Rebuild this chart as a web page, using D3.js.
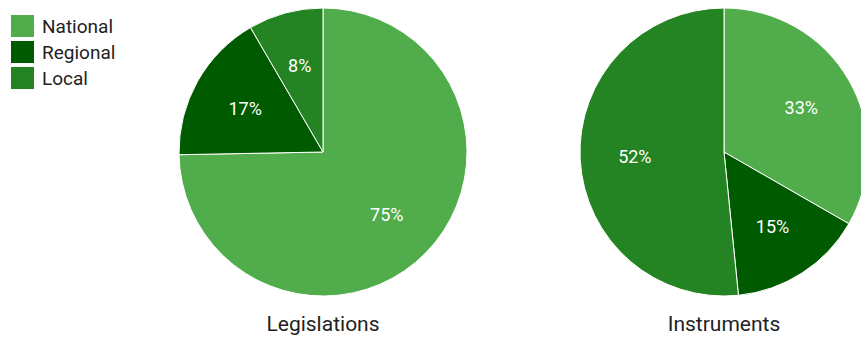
<!DOCTYPE html>
<meta charset="utf-8" />
<script src="https://d3js.org/d3.v7.min.js"></script>
<style>
  html, body { margin: 0; padding: 0; overflow: hidden; background: #fff; }
  text { font-family: Roboto, "Noto Sans", sans-serif; }
</style>
<div id="chart"></div>
<script>
  var width = 861;
  var height = 338;

  var categories = ["National", "Regional", "Local"];
  var colours = ["#51ac4b", "#005a00", "#248423"];
  // shares in percent
  var legislations = [74.7, 16.9, 8.4];
  var instruments = [33.3, 15.1, 51.6];
  var titles = ["Legislations", "Instruments"];

  var svg = d3.select("#chart")
    .append("svg")
    .attr("width", width)
    .attr("height", height);

  var colour = d3.scaleOrdinal().domain(categories).range(colours);

  // legend
  var legend = svg.append("g").attr("transform", "translate(11,15)");
  legend.selectAll("rect")
    .data(categories)
    .enter()
    .append("rect")
    .attr("x", 0)
    .attr("y", function(d, i) { return i * 26; })
    .attr("width", 23)
    .attr("height", 22)
    .style("fill", function(d) { return colour(d); });
  legend.selectAll("text")
    .data(categories)
    .enter()
    .append("text")
    .attr("x", 31)
    .attr("y", function(d, i) { return i * 26 + 11; })
    .attr("dy", "0.36em")
    .style("font-size", "19px")
    .style("fill", "#222")
    .text(function(d) { return d; });

  var radius = 144;
  var pie = d3.pie().sort(null).value(function(d) { return d.value; });
  var arc = d3.arc().innerRadius(0).outerRadius(radius);
  var labelArc = d3.arc().innerRadius(radius * 0.62).outerRadius(radius * 0.62);

  function drawPie(values, cx, title) {
    var data = categories.map(function(c, i) { return { key: c, value: values[i] }; });
    var g = svg.append("g").attr("transform", "translate(" + cx + ",152)");
    var arcs = pie(data);
    g.selectAll("path")
      .data(arcs)
      .enter()
      .append("path")
      .attr("d", arc)
      .style("fill", function(d) { return colour(d.data.key); })
      .style("stroke", "#fff")
      .style("stroke-width", 1);
    g.selectAll("text.pct")
      .data(arcs)
      .enter()
      .append("text")
      .attr("class", "pct")
      .attr("transform", function(d) { return "translate(" + labelArc.centroid(d) + ")"; })
      .attr("text-anchor", "middle")
      .attr("dy", "0.36em")
      .style("font-size", "18px")
      .style("fill", "#fff")
      .text(function(d) { return Math.round(d.data.value) + "%"; });
    svg.append("text")
      .attr("x", cx)
      .attr("y", 331)
      .attr("text-anchor", "middle")
      .style("font-size", "21px")
      .style("fill", "#222")
      .text(title);
  }

  drawPie(legislations, 323, titles[0]);
  drawPie(instruments, 724, titles[1]);
</script>
